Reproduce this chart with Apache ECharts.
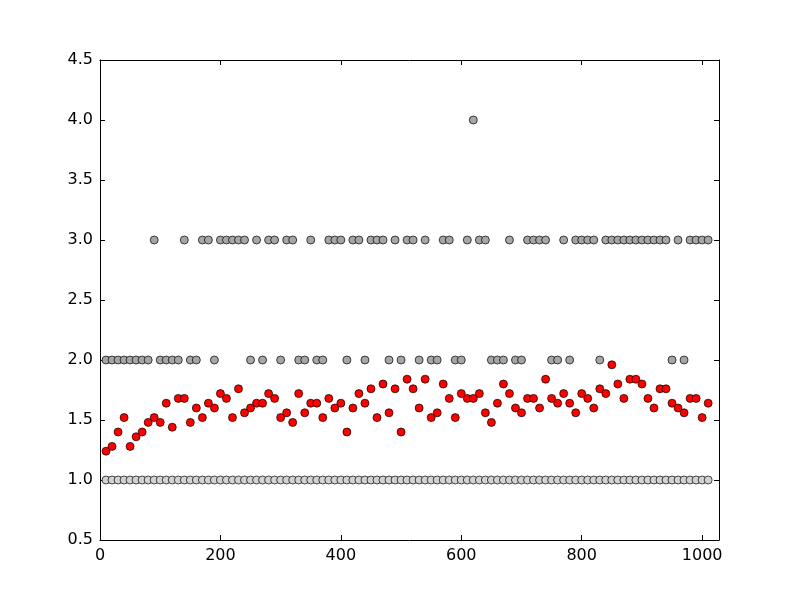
<!DOCTYPE html>
<html>
<head>
<meta charset="utf-8">
<script src="https://cdn.jsdelivr.net/npm/echarts@6/dist/echarts.min.js"></script>
<style>
  html, body { margin: 0; padding: 0; background: #fff; }
  #chart { width: 800px; height: 600px; }
</style>
</head>
<body>
<div id="chart"></div>
<script>
// x positions of the samples
const xValues = [
  10, 20, 30, 40, 50, 60, 70, 80, 90, 100,
  110, 120, 130, 140, 150, 160, 170, 180, 190, 200,
  210, 220, 230, 240, 250, 260, 270, 280, 290, 300,
  310, 320, 330, 340, 350, 360, 370, 380, 390, 400,
  410, 420, 430, 440, 450, 460, 470, 480, 490, 500,
  510, 520, 530, 540, 550, 560, 570, 580, 590, 600,
  610, 620, 630, 640, 650, 660, 670, 680, 690, 700,
  710, 720, 730, 740, 750, 760, 770, 780, 790, 800,
  810, 820, 830, 840, 850, 860, 870, 880, 890, 900,
  910, 920, 930, 940, 950, 960, 970, 980, 990, 1000,
  1010
];

// light gray series (bottom row)
const lowValues = [
  1, 1, 1, 1, 1, 1, 1, 1, 1, 1,
  1, 1, 1, 1, 1, 1, 1, 1, 1, 1,
  1, 1, 1, 1, 1, 1, 1, 1, 1, 1,
  1, 1, 1, 1, 1, 1, 1, 1, 1, 1,
  1, 1, 1, 1, 1, 1, 1, 1, 1, 1,
  1, 1, 1, 1, 1, 1, 1, 1, 1, 1,
  1, 1, 1, 1, 1, 1, 1, 1, 1, 1,
  1, 1, 1, 1, 1, 1, 1, 1, 1, 1,
  1, 1, 1, 1, 1, 1, 1, 1, 1, 1,
  1, 1, 1, 1, 1, 1, 1, 1, 1, 1,
  1
];

// dark gray series (2, 3 or 4)
const highValues = [
  2, 2, 2, 2, 2, 2, 2, 2, 3, 2,
  2, 2, 2, 3, 2, 2, 3, 3, 2, 3,
  3, 3, 3, 3, 2, 3, 2, 3, 3, 2,
  3, 3, 2, 2, 3, 2, 2, 3, 3, 3,
  2, 3, 3, 2, 3, 3, 3, 2, 3, 2,
  3, 3, 2, 3, 2, 2, 3, 3, 2, 2,
  3, 4, 3, 3, 2, 2, 2, 3, 2, 2,
  3, 3, 3, 3, 2, 2, 3, 2, 3, 3,
  3, 3, 2, 3, 3, 3, 3, 3, 3, 3,
  3, 3, 3, 3, 2, 3, 2, 3, 3, 3,
  3
];

// red series (average-like values)
const meanValues = [
  1.24, 1.28, 1.40, 1.52, 1.28, 1.36, 1.40, 1.48, 1.52, 1.48,
  1.64, 1.44, 1.68, 1.68, 1.48, 1.60, 1.52, 1.64, 1.60, 1.72,
  1.68, 1.52, 1.76, 1.56, 1.60, 1.64, 1.64, 1.72, 1.68, 1.52,
  1.56, 1.48, 1.72, 1.56, 1.64, 1.64, 1.52, 1.68, 1.60, 1.64,
  1.40, 1.60, 1.72, 1.64, 1.76, 1.52, 1.80, 1.56, 1.76, 1.40,
  1.84, 1.76, 1.60, 1.84, 1.52, 1.56, 1.80, 1.68, 1.52, 1.72,
  1.68, 1.68, 1.72, 1.56, 1.48, 1.64, 1.80, 1.72, 1.60, 1.56,
  1.68, 1.68, 1.60, 1.84, 1.68, 1.64, 1.72, 1.64, 1.56, 1.72,
  1.68, 1.60, 1.76, 1.72, 1.96, 1.80, 1.68, 1.84, 1.84, 1.80,
  1.68, 1.60, 1.76, 1.76, 1.64, 1.60, 1.56, 1.68, 1.68, 1.52,
  1.64
];

const xTicks = [0, 200, 400, 600, 800, 1000];
const yTicks = [0.5, 1.0, 1.5, 2.0, 2.5, 3.0, 3.5, 4.0, 4.5];

const X_MIN = 0;
const X_MAX = 1028;

function pairs(ys) {
  return xValues.map((x, i) => [x, ys[i]]);
}

const chart = echarts.init(document.getElementById("chart"));

const axisText = {
  color: "#000",
  fontFamily: "DejaVu Sans",
  fontSize: 16,
};

// ticks inside, on all four sides (classic look)
function xAxisCfg(position, labels) {
  return {
    type: "value",
    position: position,
    min: X_MIN,
    max: X_MAX,
    interval: 200,
    axisLine: { show: true, onZero: false, lineStyle: { color: "#000", width: 1 } },
    axisTick: { show: true, inside: true, length: 5, lineStyle: { color: "#000" } },
    axisLabel: Object.assign({
      show: labels,
      margin: 8,
      showMaxLabel: false,
      formatter: (v) => (xTicks.indexOf(v) >= 0 ? String(v) : ""),
    }, axisText),
    splitLine: { show: false },
  };
}

function yAxisCfg(position, labels) {
  return {
    type: "value",
    position: position,
    min: yTicks[0],
    max: yTicks[yTicks.length - 1],
    interval: 0.5,
    axisLine: { show: true, onZero: false, lineStyle: { color: "#000", width: 1 } },
    axisTick: { show: true, inside: true, length: 5, lineStyle: { color: "#000" } },
    axisLabel: Object.assign({
      show: labels,
      margin: 7,
      formatter: (v) => v.toFixed(1),
    }, axisText),
    splitLine: { show: false },
  };
}

function scatter(name, ys, color) {
  return {
    name: name,
    type: "scatter",
    xAxisIndex: 0,
    yAxisIndex: 0,
    data: pairs(ys),
    symbol: "circle",
    symbolSize: 8,
    itemStyle: { color: color, borderColor: "#000", borderWidth: 0.7, opacity: 1 },
  };
}

const option = {
  animation: false,
  backgroundColor: "#fff",
  grid: { left: 100, right: 81, top: 60, bottom: 60 },
  xAxis: [xAxisCfg("bottom", true), xAxisCfg("top", false)],
  yAxis: [yAxisCfg("left", true), yAxisCfg("right", false)],
  series: [
    scatter("low", lowValues, "#d3d3d3"),
    scatter("high", highValues, "#a6a6a6"),
    scatter("mean", meanValues, "#ff0000"),
  ],
};

chart.setOption(option);
</script>
</body>
</html>
